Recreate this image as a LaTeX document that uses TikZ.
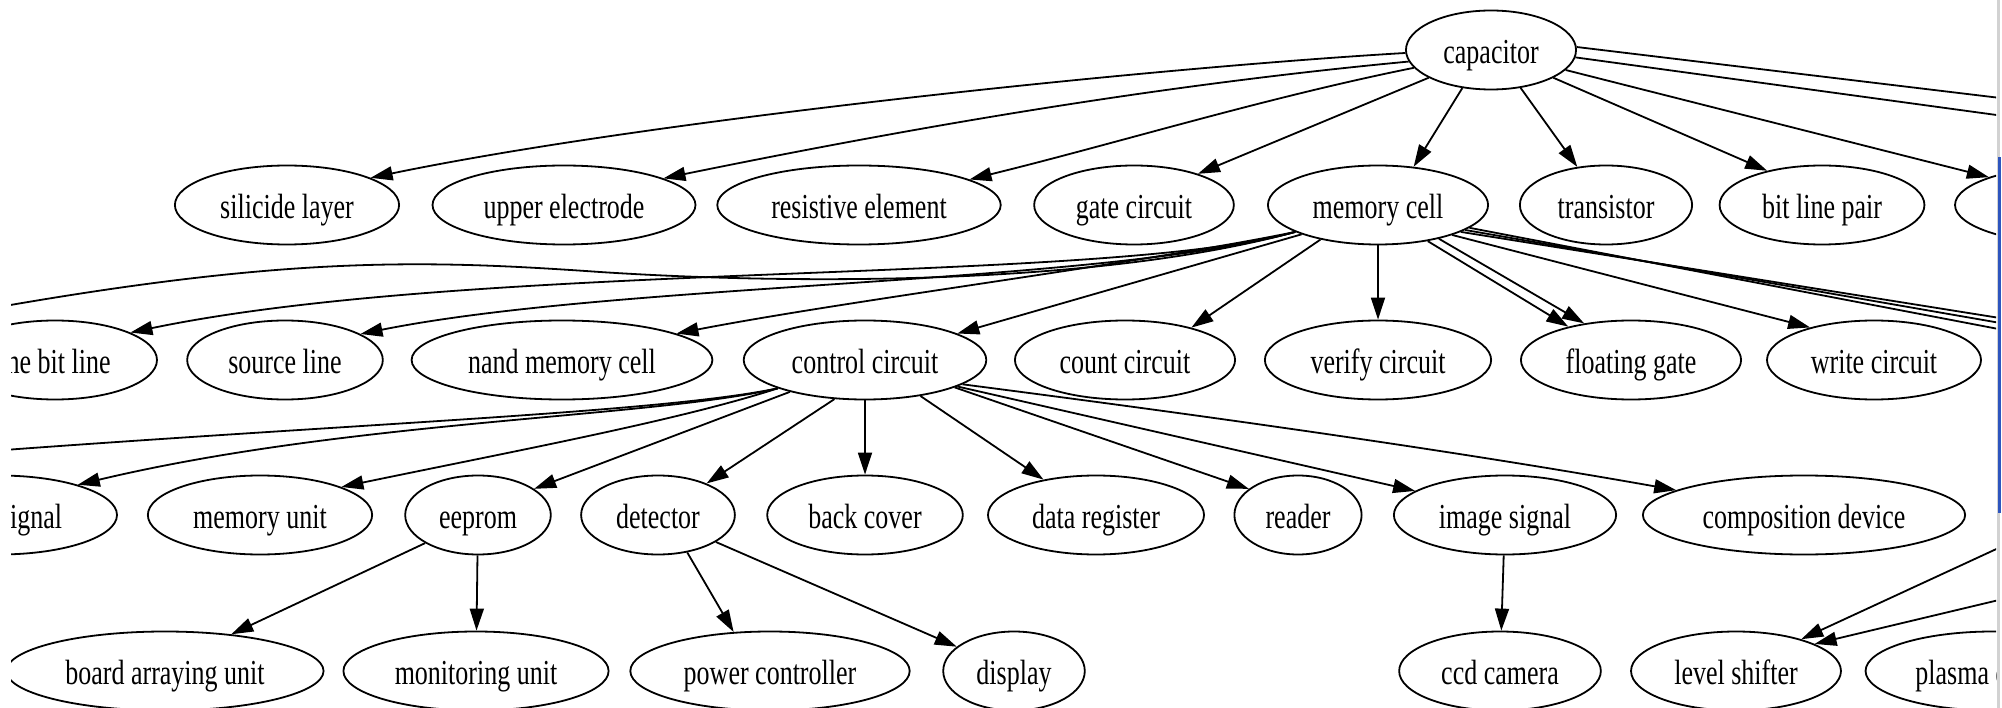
\documentclass[tikz,border=0pt]{standalone}
\usepackage{fontspec}
\usepackage{graphicx}
\setmainfont{Liberation Serif}
\usetikzlibrary{arrows.meta,shapes.geometric}
\definecolor{barblue}{RGB}{45,85,190}
\newcommand{\lbl}[1]{\scalebox{1}[1.35]{#1}}
\begin{document}
\begin{tikzpicture}[x=1pt,y=-1pt,
  gnode/.style={ellipse, draw, line width=1.8pt, inner xsep=12.5pt, inner ysep=2pt,
    minimum height=79pt, text height=27pt, text depth=0pt,
    font=\fontsize{26}{30}\selectfont},
  link/.style={line width=1.8pt, -{Triangle[length=22pt,width=14pt]}},
  bare/.style={line width=1.8pt}]
\useasboundingbox (0,0) rectangle (2002,708);
\fill[white] (0,0) rectangle (2002,708);

\begin{scope}
\clip (11,0) rectangle (1996,708);

% rank 0
\node[gnode] (cap) at (1491,50) {\lbl{capacitor}};
% rank 1
\node[gnode] (sil) at (287,205) {\lbl{silicide layer}};
\node[gnode] (ue)  at (564,205) {\lbl{upper electrode}};
\node[gnode] (re)  at (859,205) {\lbl{resistive element}};
\node[gnode] (gc)  at (1134,205) {\lbl{gate circuit}};
\node[gnode] (mc)  at (1378,205) {\lbl{memory cell}};
\node[gnode] (tr)  at (1606,205) {\lbl{transistor}};
\node[gnode] (blp) at (1822,205) {\lbl{bit line pair}};
\node[gnode, minimum width=250pt] (pr) at (2080,205) {};
% rank 2
\node[gnode, minimum width=204pt] (tbl) at (55,360) {\lbl{the bit line}};
\node[gnode] (sl)  at (285,360) {\lbl{source line}};
\node[gnode] (nmc) at (562,360) {\lbl{nand memory cell}};
\node[gnode] (cc)  at (865,360) {\lbl{control circuit}};
\node[gnode] (coc) at (1125,360) {\lbl{count circuit}};
\node[gnode] (vc)  at (1378,360) {\lbl{verify circuit}};
\node[gnode] (fg)  at (1631,360) {\lbl{floating gate}};
\node[gnode] (wc)  at (1874,360) {\lbl{write circuit}};
% rank 3
\node[gnode, minimum width=236pt] (sig) at (-1,515) {\lbl{video signal}};
\node[gnode] (mu)  at (260,515) {\lbl{memory unit}};
\node[gnode] (ee)  at (478,515) {\lbl{eeprom}};
\node[gnode] (dt)  at (658,515) {\lbl{detector}};
\node[gnode] (bc)  at (865,515) {\lbl{back cover}};
\node[gnode] (dr)  at (1096,515) {\lbl{data register}};
\node[gnode] (rd)  at (1298,515) {\lbl{reader}};
\node[gnode] (is)  at (1505,515) {\lbl{image signal}};
\node[gnode] (cd)  at (1804,515) {\lbl{composition device}};
% rank 4
\node[gnode] (bau) at (165,671) {\lbl{board arraying unit}};
\node[gnode] (mou) at (476,671) {\lbl{monitoring unit}};
\node[gnode] (pc)  at (770,671) {\lbl{power controller}};
\node[gnode] (di)  at (1014,671) {\lbl{display}};
\node[gnode] (ccd) at (1500,671) {\lbl{ccd camera}};
\node[gnode] (ls)  at (1736,671) {\lbl{level shifter}};
\node[gnode] (pd)  at (1993,671) {\lbl{plasma display}};

% ends of edges that leave the visible area
\coordinate (offA) at (2150,116);
\coordinate (offB) at (2150,136);
\coordinate (offL1) at (-150,335);
\coordinate (offL2) at (-150,462);
\coordinate (offR1) at (2150,342);
\coordinate (offR2) at (2150,349);
\coordinate (offR3) at (2150,358);
\coordinate (offR4) at (2150,478);
\coordinate (offR5) at (2150,564);

% edges from capacitor
\draw[link] (cap.182) .. controls (1150,68) and (650,120) .. (sil.18);
\draw[link] (cap.188) .. controls (1160,85) and (920,126) .. (ue.15);
\draw[link] (cap.193) .. controls (1264,98) and (1118,143) .. (re.13);
\draw[link] (cap.204) -- (gc.26);
\draw[link] (cap.233) -- (mc.47);
\draw[link] (cap.308) -- (tr.127);
\draw[link] (cap.336) -- (blp.148);
\draw[link] (cap.345) -- (pr.163);
\draw[bare] (cap.2) -- (offA);
\draw[bare] (cap.355) -- (offB);

% edges from memory cell
\draw[bare] (mc.198) .. controls (1100,285) and (800,285) .. (600,272)
  .. controls (400,258) and (250,255) .. (offL1);
\draw[link] (mc.198) .. controls (1100,285) and (480,260) .. (tbl.20);
\draw[link] (mc.198) .. controls (1100,285) and (620,282) .. (sl.19);
\draw[link] (mc.198) .. controls (1150,262) and (850,300) .. (nmc.13);
\draw[link] (mc.201) -- (cc.16);
\draw[link] (mc.211) -- (coc.26);
\draw[link] (mc.south) -- (vc.north);
\draw[link] (mc.324) -- (fg.152);
\draw[link] (mc.331) -- (fg.142);
\draw[link] (mc.338) -- (wc.153);
\draw[bare] (mc.342) -- (offR1);
\draw[bare] (mc.344) -- (offR2);
\draw[bare] (mc.346) -- (offR3);

% edges from control circuit
\draw[bare] (cc.198) .. controls (650,415) and (300,425) .. (offL2);
\draw[link] (cc.198) .. controls (650,418) and (350,420) .. (sig.21);
\draw[link] (cc.198) .. controls (680,420) and (520,450) .. (mu.19);
\draw[link] (cc.203) -- (ee.25);
\draw[link] (cc.232) -- (dt.33);
\draw[link] (cc) -- (bc);
\draw[link] (cc.327) -- (dr.146);
\draw[link] (cc.343) -- (rd.152);
\draw[link] (cc.344) -- (is.165);
\draw[link] (cc.346) .. controls (1200,415) and (1450,450) .. (cd.169);

% lower ranks
\draw[link] (ee.208) -- (bau.29);
\draw[link] (ee) -- (mou);
\draw[link] (dt.308) -- (pc.133);
\draw[link] (dt.335) -- (di.157);
\draw[link] (is) -- (ccd);
\draw[link] (offR4) -- (ls.26);
\draw[link] (offR5) -- (ls.19);
\end{scope}

% window edge
\fill[gray!35] (1996.5,0) rectangle (2000,708);
\fill[barblue] (1998,157) rectangle (2000.5,513);
\end{tikzpicture}
\end{document}
